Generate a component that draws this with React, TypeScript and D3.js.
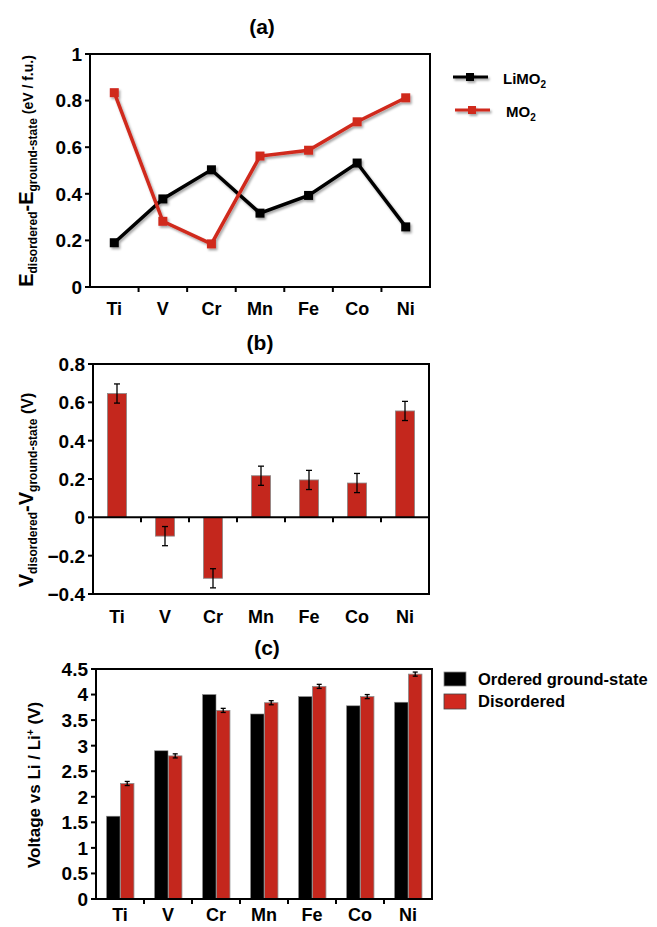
import React from "react";
import * as d3 from "d3";

const metals = ["Ti", "V", "Cr", "Mn", "Fe", "Co", "Ni"];
const limo2Energy = [0.19, 0.378, 0.503, 0.317, 0.393, 0.532, 0.258];
const mo2Energy = [0.834, 0.282, 0.185, 0.562, 0.587, 0.709, 0.812];
const voltageDiff = [0.646, -0.098, -0.318, 0.217, 0.195, 0.179, 0.555];
const voltageDiffErr = [0.05, 0.05, 0.05, 0.05, 0.05, 0.05, 0.05];
const orderedVoltage = [1.62, 2.9, 4.0, 3.62, 3.96, 3.78, 3.85];
const disorderedVoltage = [2.26, 2.8, 3.69, 3.84, 4.16, 3.96, 4.4];
const disorderedErr = [0.04, 0.04, 0.04, 0.04, 0.04, 0.04, 0.04];
const ticksA = [0, 0.2, 0.4, 0.6, 0.8, 1];
const ticksB = [-0.4, -0.2, 0, 0.2, 0.4, 0.6, 0.8];
const ticksC = [0, 0.5, 1, 1.5, 2, 2.5, 3, 3.5, 4, 4.5];

const FONT = "'Liberation Sans', Arial, Helvetica, sans-serif";
const RED = "#c4271d";
const LINE_RED = "#d0291f";

function fmt(v: number) {
  return d3.format("~g")(Math.round(v * 100) / 100);
}

function YAxis({ y, x0, ticks, size }: any) {
  return (
    <g>
      {ticks.map((t: number) => (
        <g key={t}>
          <line x1={x0 - 5} x2={x0} y1={y(t)} y2={y(t)} stroke="#000" strokeWidth={2} />
          <text x={x0 - 8} y={y(t)} dy="0.36em" textAnchor="end" fontSize={size} fontWeight="bold" fontFamily={FONT}>
            {fmt(t)}
          </text>
        </g>
      ))}
    </g>
  );
}

function XTicks({ x, yLine, labelY }: any) {
  const bw = x.bandwidth();
  return (
    <g>
      {metals.map((m, i) => (
        <g key={m}>
          {i > 0 && (
            <line x1={x(m)} x2={x(m)} y1={yLine} y2={yLine + 5} stroke="#000" strokeWidth={2} />
          )}
          <text x={x(m) + bw / 2} y={labelY} textAnchor="middle" fontSize={18} fontWeight="bold" fontFamily={FONT}>
            {m}
          </text>
        </g>
      ))}
    </g>
  );
}

function ErrorBar({ cx, yTop, yBot, cap }: any) {
  return (
    <g stroke="#000" strokeWidth={1.3}>
      <line x1={cx} x2={cx} y1={yTop} y2={yBot} />
      <line x1={cx - cap} x2={cx + cap} y1={yTop} y2={yTop} />
      <line x1={cx - cap} x2={cx + cap} y1={yBot} y2={yBot} />
    </g>
  );
}

function PanelA() {
  const x0 = 90, x1 = 430, y0 = 54, y1 = 287;
  const x = d3.scaleBand().domain(metals).range([x0, x1]);
  const y = d3.scaleLinear().domain([0, 1]).range([y1, y0]);
  const cx = (m: string) => (x(m) as number) + x.bandwidth() / 2;
  const line = d3
    .line<number>()
    .x((_, i) => cx(metals[i]))
    .y((d) => y(d));
  const ms = 9;
  return (
    <g>
      <text x={262} y={34} textAnchor="middle" fontSize={21} fontWeight="bold" fontFamily={FONT}>(a)</text>
      <rect x={x0} y={y0} width={x1 - x0} height={y1 - y0} fill="none" stroke="#000" strokeWidth={2} />
      <YAxis y={y} x0={x0} ticks={ticksA} size={19} />
      <XTicks x={x} yLine={y1} labelY={315} />
      <g filter="url(#shadow)">
        <path d={line(limo2Energy) || ""} fill="none" stroke="#000" strokeWidth={3.5} />
        {limo2Energy.map((v, i) => (
          <rect key={i} x={cx(metals[i]) - ms / 2} y={y(v) - ms / 2} width={ms} height={ms} fill="#000" />
        ))}
        <path d={line(mo2Energy) || ""} fill="none" stroke={LINE_RED} strokeWidth={3.5} />
        {mo2Energy.map((v, i) => (
          <rect key={i} x={cx(metals[i]) - ms / 2} y={y(v) - ms / 2} width={ms} height={ms} fill={LINE_RED} />
        ))}
      </g>
      <text transform="translate(33,171) rotate(-90)" textAnchor="middle" fontWeight="bold" fontFamily={FONT}>
        <tspan fontSize={20}>E</tspan>
        <tspan fontSize={12} dy={4}>disordered</tspan>
        <tspan fontSize={20} dy={-4}>-E</tspan>
        <tspan fontSize={12} dy={4}>ground-state</tspan>
        <tspan fontSize={14} dy={-4}> (eV / f.u.)</tspan>
      </text>
      <g filter="url(#shadow)">
        <line x1={453} x2={488} y1={77} y2={77} stroke="#000" strokeWidth={3} />
        <rect x={466} y={73} width={8} height={8} fill="#000" />
        <line x1={455} x2={490} y1={110} y2={110} stroke={LINE_RED} strokeWidth={3} />
        <rect x={468} y={106} width={8} height={8} fill={LINE_RED} />
      </g>
      <text x={503} y={84} fontSize={15} fontWeight="bold" fontFamily={FONT}>
        LiMO<tspan fontSize={10} dy={4}>2</tspan>
      </text>
      <text x={506} y={117} fontSize={15} fontWeight="bold" fontFamily={FONT}>
        MO<tspan fontSize={10} dy={4}>2</tspan>
      </text>
    </g>
  );
}

function PanelB() {
  const x0 = 93, x1 = 429, y0 = 364, y1 = 594;
  const x = d3.scaleBand().domain(metals).range([x0, x1]);
  const y = d3.scaleLinear().domain([-0.4, 0.8]).range([y1, y0]);
  const bw = x.bandwidth() * 0.4;
  const cx = (m: string) => (x(m) as number) + x.bandwidth() / 2;
  return (
    <g>
      <text x={260} y={350} textAnchor="middle" fontSize={21} fontWeight="bold" fontFamily={FONT}>(b)</text>
      {voltageDiff.map((v, i) => (
        <rect
          key={i}
          x={cx(metals[i]) - bw / 2}
          y={Math.min(y(v), y(0))}
          width={bw}
          height={Math.abs(y(v) - y(0))}
          fill={RED}
          stroke="#8a8a8a"
          strokeWidth={0.8}
        />
      ))}
      {voltageDiff.map((v, i) => (
        <ErrorBar key={i} cx={cx(metals[i])} yTop={y(v + voltageDiffErr[i])} yBot={y(v - voltageDiffErr[i])} cap={3} />
      ))}
      <rect x={x0} y={y0} width={x1 - x0} height={y1 - y0} fill="none" stroke="#000" strokeWidth={2} />
      <line x1={x0} x2={x1} y1={y(0)} y2={y(0)} stroke="#000" strokeWidth={2} />
      <YAxis y={y} x0={x0} ticks={ticksB} size={19} />
      <XTicks x={x} yLine={y(0)} labelY={623} />
      <text transform="translate(33,490) rotate(-90)" textAnchor="middle" fontWeight="bold" fontFamily={FONT}>
        <tspan fontSize={20}>V</tspan>
        <tspan fontSize={12} dy={4}>disordered</tspan>
        <tspan fontSize={20} dy={-4}>-V</tspan>
        <tspan fontSize={12} dy={4}>ground-state</tspan>
        <tspan fontSize={16} dy={-4}> (V)</tspan>
      </text>
    </g>
  );
}

function PanelC() {
  const x0 = 96, x1 = 432, y0 = 669, y1 = 899;
  const x = d3.scaleBand().domain(metals).range([x0, x1]);
  const y = d3.scaleLinear().domain([0, 4.5]).range([y1, y0]);
  const bw = x.bandwidth() * 0.28;
  const cx = (m: string) => (x(m) as number) + x.bandwidth() / 2;
  return (
    <g>
      <text x={267} y={655} textAnchor="middle" fontSize={21} fontWeight="bold" fontFamily={FONT}>(c)</text>
      {orderedVoltage.map((v, i) => (
        <rect key={"o" + i} x={cx(metals[i]) - bw} y={y(v)} width={bw} height={y(0) - y(v)} fill="#000" stroke="#8a8a8a" strokeWidth={0.6} />
      ))}
      {disorderedVoltage.map((v, i) => (
        <rect key={"d" + i} x={cx(metals[i]) + 0.5} y={y(v)} width={bw} height={y(0) - y(v)} fill={RED} stroke="#8a8a8a" strokeWidth={0.8} />
      ))}
      {disorderedVoltage.map((v, i) => (
        <ErrorBar key={i} cx={cx(metals[i]) + 0.5 + bw / 2} yTop={y(v + disorderedErr[i])} yBot={y(v - disorderedErr[i])} cap={2.5} />
      ))}
      <rect x={x0} y={y0} width={x1 - x0} height={y1 - y0} fill="none" stroke="#000" strokeWidth={2} />
      <YAxis y={y} x0={x0} ticks={ticksC} size={19} />
      <XTicks x={x} yLine={y1} labelY={921} />
      <text transform="translate(40,785) rotate(-90)" textAnchor="middle" fontWeight="bold" fontFamily={FONT} fontSize={17}>
        Voltage vs Li / Li<tspan fontSize={10} dy={-6}>+</tspan><tspan dy={6}> (V)</tspan>
      </text>
      <rect x={444} y={672} width={22} height={14} fill="#000" stroke="#8a8a8a" strokeWidth={0.8} />
      <rect x={444} y={694} width={22} height={15} fill={LINE_RED} stroke="#444" strokeWidth={0.8} />
      <text x={478} y={685} fontSize={16.5} fontWeight="bold" fontFamily={FONT}>Ordered ground-state</text>
      <text x={478} y={707} fontSize={16.5} fontWeight="bold" fontFamily={FONT}>Disordered</text>
    </g>
  );
}

export default function App() {
  return (
    <svg
      width={657}
      height={927}
      viewBox="0 0 657 927"
      style={{ position: "absolute", left: 0, top: 0, background: "#fff" }}
    >
      <defs>
        <filter id="shadow" x="-20%" y="-20%" width="140%" height="140%">
          <feDropShadow dx={1.5} dy={2} stdDeviation={1.2} floodColor="#000" floodOpacity={0.35} />
        </filter>
      </defs>
      <rect width={657} height={927} fill="#fff" />
      <PanelA />
      <PanelB />
      <PanelC />
    </svg>
  );
}
